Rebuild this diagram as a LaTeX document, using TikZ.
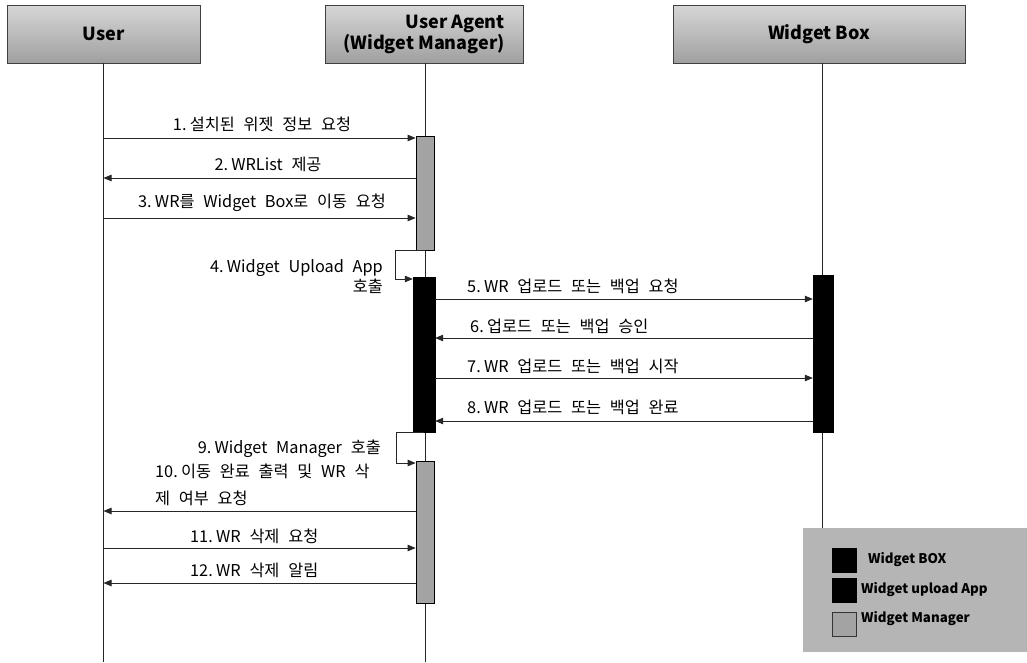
\documentclass[tikz,border=0pt]{standalone}
\usepackage{fontspec}
\setmainfont{Noto Sans CJK KR}[WordSpace=2.4]
\newfontfamily\hdfont{Noto Sans CJK KR}
\usetikzlibrary{arrows.meta}
\newcommand\msgno[1]{#1\hspace{0.2em}}
\begin{document}
\begin{tikzpicture}[x=1pt,y=-1pt,
 head/.style={draw=black!75, line width=0.8pt, top color=gray!32, bottom color=gray!75, minimum height=58pt, inner sep=0pt, font=\hdfont\bfseries\fontsize{18}{21}\selectfont, text=black},
 barG/.style={draw=black, line width=0.8pt, fill=gray!72, minimum width=18pt, inner sep=0pt},
 barK/.style={draw=black, fill=black, minimum width=22pt, inner sep=0pt},
 life/.style={line width=0.8pt, black!85},
 msg/.style={line width=0.8pt, black!85, -{Triangle[length=8pt,width=6.5pt]}},
 lbl/.style={font=\fontsize{16.3}{20}\selectfont, inner sep=0pt},
 legtxt/.style={font=\hdfont\bfseries\fontsize{13.3}{15}\selectfont, inner sep=0pt, anchor=west},
]
\useasboundingbox (0,0) rectangle (1027,662);
% legend background (covers the lower part of the Widget Box lifeline)
\node[fill=gray!58, minimum width=224pt, minimum height=124pt, inner sep=0pt] (leg) at (915,590) {};
% headers
\node[head, minimum width=193pt] (hU) at (103.5,34) {User};
\node[head, minimum width=198pt, align=right] (hA) at (424,34) {User Agent\\(Widget Manager)};
\node[head, minimum width=292pt] (hB) at (819,34) {Widget Box};
% lifeline ends
\coordinate (eU) at (103.5,662);
\coordinate (eA) at (425,662);
\coordinate (eB) at (822,662);
\draw[life] (hU.south) -- (eU);
\draw[life] (eA |- hA.south) -- (eA);
\draw[life] (eB |- hB.south) -- (eB |- leg.north);
% activation bars
\node[barG, minimum height=114pt] (a1) at (425,193) {};
\node[barK, minimum height=155pt] (a2) at (424,354.5) {};
\node[barG, minimum height=142pt] (a3) at (425,532) {};
\node[barK, minimum width=20pt, minimum height=157pt] (b1) at (823,353.5) {};
% messages
\draw[msg] (hU.south |- 0,138) -- (a1.west |- 0,138);
\draw[msg] (a1.west |- 0,178) -- (hU.south |- 0,178);
\draw[msg] (hU.south |- 0,218) -- (a1.west |- 0,218);
\draw[msg] (a1.south) -- ++(-30,0) |- (a2.west |- 0,279);
\draw[msg] (a2.east |- 0,299) -- (b1.west |- 0,299);
\draw[msg] (b1.west |- 0,338) -- (a2.east |- 0,338);
\draw[msg] (a2.east |- 0,378) -- (b1.west |- 0,378);
\draw[msg] (b1.west |- 0,421) -- (a2.east |- 0,421);
\draw[msg] (a2.south) -- ++(-28,0) |- (a3.west |- 0,463);
\draw[msg] (a3.west |- 0,511) -- (hU.south |- 0,511);
\draw[msg] (hU.south |- 0,548) -- (a3.west |- 0,548);
\draw[msg] (a3.west |- 0,583) -- (hU.south |- 0,583);
% labels
\node[lbl] (l1) at (262,124) {\msgno{1.}설치된 위젯 정보 요청};
\node[lbl] (l2) at (268,164) {\msgno{2.}WRList 제공};
\node[lbl] (l3) at (262,203) {\msgno{3.}WR를 Widget Box로 이동 요청};
\node[lbl, align=right, anchor=east] (l4) at (383,277) {\msgno{4.}Widget Upload App\\호출};
\node[lbl, anchor=west] (l5) at (467,286) {\msgno{5.}WR 업로드 또는 백업 요청};
\node[lbl, anchor=west] (l6) at (470,326) {\msgno{6.}업로드 또는 백업 승인};
\node[lbl, anchor=west] (l7) at (467,366) {\msgno{7.}WR 업로드 또는 백업 시작};
\node[lbl, anchor=west] (l8) at (467,407) {\msgno{8.}WR 업로드 또는 백업 완료};
\node[lbl, anchor=east] (l9) at (381,449) {\msgno{9.}Widget Manager 호출};
\node[lbl, align=left, anchor=west, font=\fontsize{16.3}{27}\selectfont] (l10) at (155,485) {\msgno{10.}이동 완료 출력 및 WR 삭\\제 여부 요청};
\node[lbl, anchor=west] (l11) at (190,536) {\msgno{11.}WR 삭제 요청};
\node[lbl, anchor=west] (l12) at (190,570) {\msgno{12.}WR 삭제 알림};
% legend content
\node[fill=black, minimum size=25pt, inner sep=0pt] (k1) at (844.5,560.5) {};
\node[fill=black, minimum size=25pt, inner sep=0pt] (k2) at (844.5,590.5) {};
\node[fill=gray!72, draw=black!80, line width=1pt, minimum size=24pt, inner sep=0pt] (k3) at (844.5,624.5) {};
\node[legtxt] (t1) at (868,560) {Widget BOX};
\node[legtxt] (t2) at (861,590) {Widget upload App};
\node[legtxt] (t3) at (861,619) {Widget Manager};
\end{tikzpicture}
\end{document}
